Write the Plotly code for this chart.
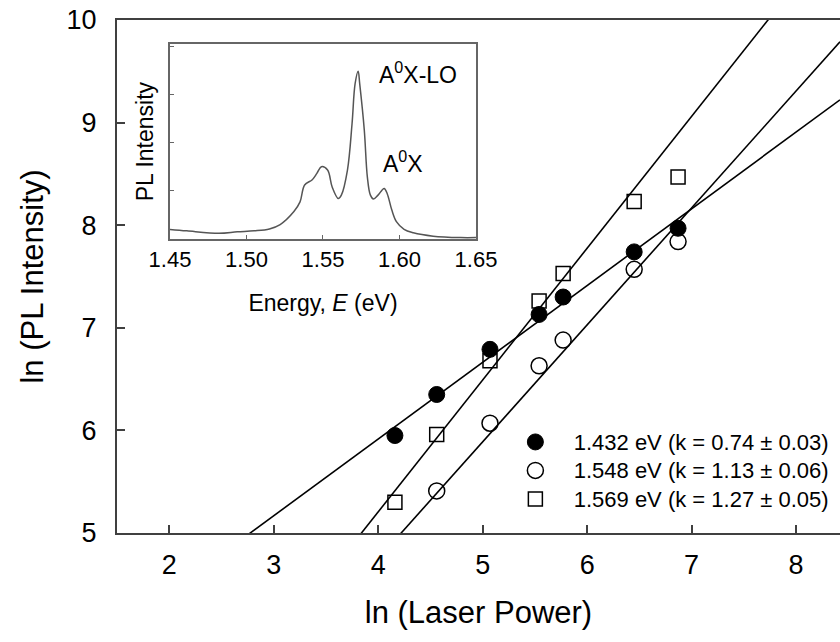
import plotly.graph_objects as go

FONT = "Liberation Sans, Arial, sans-serif"

# Main data: ln(Laser Power) vs ln(PL Intensity)
x_filled = [4.16, 4.56, 5.07, 5.54, 5.77, 6.45, 6.87]
y_filled = [5.95, 6.35, 6.79, 7.13, 7.30, 7.74, 7.97]
x_open = [4.56, 5.07, 5.54, 5.77, 6.45, 6.87]
y_open = [5.41, 6.07, 6.63, 6.88, 7.57, 7.84]
x_square = [4.16, 4.56, 5.07, 5.54, 5.77, 6.45, 6.87]
y_square = [5.30, 5.96, 6.68, 7.26, 7.53, 8.23, 8.47]

# Linear fits: slope k and intercept b (y = b + k x)
fit_k = [0.748, 1.14, 1.285]
fit_b = [2.924, 0.189, 0.066]

names = ["1.432 eV (k = 0.74 ± 0.03)",
         "1.548 eV (k = 1.13 ± 0.06)",
         "1.569 eV (k = 1.27 ± 0.05)"]

x_range = [1.5, 8.42]
y_range = [5, 10]
x_ticks = [2, 3, 4, 5, 6, 7, 8]
y_ticks = [5, 6, 7, 8, 9, 10]

# Inset spectrum
E = [1.450, 1.461, 1.482, 1.494, 1.505, 1.515, 1.522, 1.531, 1.535, 1.538,
     1.543, 1.546, 1.549, 1.553, 1.556, 1.560, 1.562, 1.566, 1.569, 1.571,
     1.573, 1.574, 1.577, 1.579, 1.581, 1.583, 1.586, 1.590, 1.592, 1.595,
     1.598, 1.603, 1.609, 1.622, 1.640, 1.650]
I = [0.20, 0.17, 0.12, 0.15, 0.17, 0.21, 0.30, 0.57, 0.77, 1.12,
     1.23, 1.36, 1.50, 1.43, 1.08, 0.84, 0.91, 1.43, 2.39, 3.22,
     3.48, 3.22, 2.26, 1.29, 0.91, 0.83, 0.91, 1.05, 0.94, 0.60,
     0.36, 0.20, 0.13, 0.06, 0.03, 0.03]
inset_x_ticks = [1.45, 1.50, 1.55, 1.60, 1.65]
inset_y_ticks = [1, 2, 3, 4]

fig = go.Figure()

def legend_name(s):
    return '<span style="font-size:22px">\u00a0\u00a0\u00a0' + s + "</span>"

fig.add_trace(go.Scatter(x=x_filled, y=y_filled, mode="markers", name=legend_name(names[0]),
                         marker=dict(symbol="circle", size=16, color="black",
                                     line=dict(color="black", width=1))))
fig.add_trace(go.Scatter(x=x_open, y=y_open, mode="markers", name=legend_name(names[1]),
                         marker=dict(symbol="circle-open", size=16, color="black",
                                     line=dict(color="black", width=1.5))))
fig.add_trace(go.Scatter(x=x_square, y=y_square, mode="markers", name=legend_name(names[2]),
                         marker=dict(symbol="square-open", size=14, color="black",
                                     line=dict(color="black", width=1.5))))

for k, b in zip(fit_k, fit_b):
    fig.add_trace(go.Scatter(x=x_range, y=[b + k * x_range[0], b + k * x_range[1]],
                             mode="lines", line=dict(color="black", width=1.6),
                             showlegend=False, hoverinfo="skip"))

fig.add_trace(go.Scatter(x=E, y=I, xaxis="x2", yaxis="y2", mode="lines",
                         line=dict(color="#555555", width=1.5, shape="spline"),
                         showlegend=False))

axis_col = "#404040"
fig.update_layout(
    width=840, height=642,
    margin=dict(l=117, r=0, t=20, b=109, autoexpand=False),
    paper_bgcolor="white", plot_bgcolor="white",
    font=dict(family=FONT, color="black"),
    xaxis=dict(range=x_range, tickvals=x_ticks, ticks="inside", ticklen=8,
               tickwidth=1.5, tickcolor=axis_col, showline=True, linecolor=axis_col,
               linewidth=2.2, mirror=True, showgrid=False, zeroline=False,
               tickfont=dict(size=27), ticklabelstandoff=6,
               title=dict(text="ln (Laser Power)", font=dict(size=31), standoff=23)),
    yaxis=dict(range=y_range, tickvals=y_ticks, ticks="inside", ticklen=8,
               tickwidth=1.5, tickcolor=axis_col, showline=True, linecolor=axis_col,
               linewidth=2.2, showgrid=False, zeroline=False,
               tickfont=dict(size=27), ticklabelstandoff=13,
               title=dict(text="ln (PL Intensity)", font=dict(size=31), standoff=14)),
    xaxis2=dict(domain=[0.0733, 0.4965], anchor="y2", range=[1.45, 1.65],
                tickvals=inset_x_ticks, tickformat=".2f", ticks="inside", ticklen=4,
                tickcolor="#666666", showline=True, linecolor="#666666", linewidth=1.5,
                mirror=True, showgrid=False, zeroline=False,
                tickfont=dict(size=22), ticklabelstandoff=0,
                title=dict(text="Energy, <i>E</i> (eV)", font=dict(size=23), standoff=24)),
    yaxis2=dict(domain=[0.573, 0.953], anchor="x2", range=[0, 4.04],
                tickvals=inset_y_ticks, showticklabels=False, ticks="inside", ticklen=4,
                tickcolor="#666666", showline=True, linecolor="#666666", linewidth=1.5,
                mirror=True, showgrid=False, zeroline=False,
                title=dict(text="PL Intensity", font=dict(size=23), standoff=8)),
    legend=dict(x=0.551, y=0.215, xanchor="left", yanchor="top",
                font=dict(size=19.6), bgcolor="rgba(0,0,0,0)", tracegroupgap=0),
    annotations=[
        dict(text="A<sup>0</sup>X-LO", x=1.5855, y=3.44, xref="x2", yref="y2",
             xanchor="left", yanchor="middle", showarrow=False, font=dict(size=23)),
        dict(text="A<sup>0</sup>X", x=1.588, y=1.59, xref="x2", yref="y2",
             xanchor="left", yanchor="middle", showarrow=False, font=dict(size=23)),
    ],
)

fig.write_html("out.html")
